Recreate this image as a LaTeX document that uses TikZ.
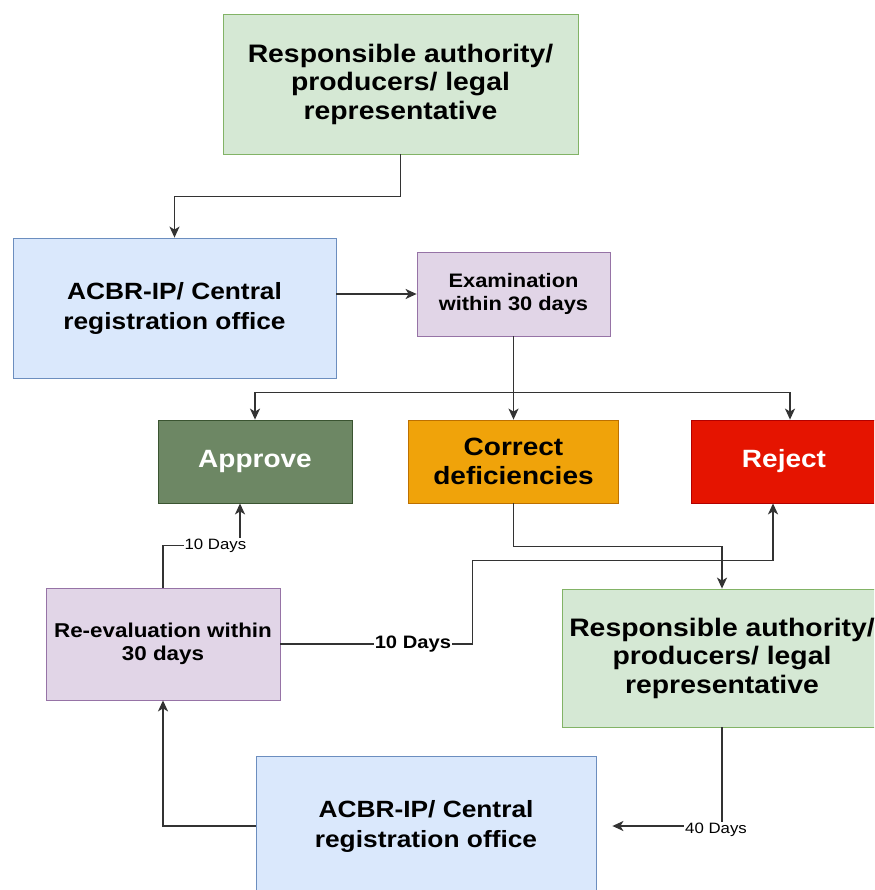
\documentclass[tikz,border=0pt]{standalone}
\usepackage{fontspec}
\setmainfont{Liberation Sans}[FakeStretch=1.12]
\usetikzlibrary{arrows.meta,calc}
\definecolor{gfill}{HTML}{D5E8D4}
\definecolor{gdraw}{HTML}{82B366}
\definecolor{bfill}{HTML}{DAE8FC}
\definecolor{bdraw}{HTML}{6C8EBF}
\definecolor{pfill}{HTML}{E1D5E7}
\definecolor{pdraw}{HTML}{9673A6}
\definecolor{appfill}{HTML}{6D8764}
\definecolor{appdraw}{HTML}{3A5431}
\definecolor{orfill}{HTML}{F0A30A}
\definecolor{ordraw}{HTML}{BD7000}
\definecolor{redfill}{HTML}{E51400}
\definecolor{reddraw}{HTML}{B20000}
\definecolor{linec}{HTML}{333333}
\begin{document}
\begin{tikzpicture}[x=1pt,y=-1pt,
  box/.style={draw, line width=0.8pt, align=center, inner sep=0pt},
  greenbox/.style={box, fill=gfill, draw=gdraw, minimum width=355pt, minimum height=140pt,
    font=\fontsize{25.3}{28.5}\selectfont\bfseries},
  bluebox/.style={box, fill=bfill, draw=bdraw, minimum width=323pt, minimum height=140pt,
    font=\fontsize{23.5}{30}\selectfont\bfseries},
  purplebox/.style={box, fill=pfill, draw=pdraw,
    font=\fontsize{19.5}{23}\selectfont\bfseries},
  decbox/.style={box, minimum height=83pt, font=\fontsize{25}{29}\selectfont\bfseries},
  arr/.style={draw=linec, line width=1.6pt, -{Stealth[length=11pt,width=10pt,inset=3pt]}},
  lab/.style={fill=white, inner sep=1pt, text=black, font=\fontsize{15}{15}\selectfont},
  labb/.style={fill=white, inner sep=1pt, text=black, font=\fontsize{18}{18}\selectfont\bfseries}]
\path[use as bounding box] (0,0) rectangle (874,890);
\clip (0,0) rectangle (874,890);

% nodes
\node[greenbox] (top) at (400.5,84) {Responsible authority/\\producers/ legal\\representative};
\node[bluebox] (acbr1) at (174.5,308) {ACBR-IP/ Central\\registration office};
\node[purplebox, minimum width=193pt, minimum height=84pt] (exam) at (513.5,294) {Examination\\within 30 days};
\node[decbox, fill=appfill, draw=appdraw, text=white, minimum width=194pt] (approve) at (255,461.5) {Approve};
\node[decbox, fill=orfill, draw=ordraw, text=black, minimum width=210pt] (correct) at (513.5,461.5) {Correct\\deficiencies};
\node[decbox, fill=redfill, draw=reddraw, text=white, minimum width=186pt] (reject) at (784,461.5) {Reject};
\node[greenbox, minimum width=320pt, minimum height=138pt] (resp2) at (722,658) {Responsible authority/\\producers/ legal\\representative};
\node[purplebox, minimum width=234pt, minimum height=112pt, font=\fontsize{20}{23}\selectfont\bfseries] (reeval) at (163,644) {Re-evaluation within\\30 days};
\node[bluebox, minimum width=340pt] (acbr2) at (426,826) {ACBR-IP/ Central\\registration office};

% helper coordinates
\coordinate (rejtop) at ($(reject.north)+(6,0)$);
\coordinate (rejbot) at ($(reject.south)+(-11,0)$);
\coordinate (appbot) at ($(approve.south)+(-15,0)$);
\coordinate (acbr2in) at ($(acbr2.east)+(16,0)$);

% connectors
\draw[arr] (top.south) -- ++(0,42) -| (acbr1.north);
\draw[arr] (acbr1.east |- exam.west) -- (exam.west);
\draw[arr] (exam.south) -- (correct.north);
\coordinate (split) at ($(exam.south)+(0,56)$);
\draw[arr] (split) -| (approve.north);
\draw[arr] (split) -| (rejtop);
\draw[arr] (correct.south) -- ++(0,43) -| (resp2.north);
\draw[arr] (reeval.east) -- node[labb, pos=0.69] {10 Days} ++(192,0) |- ($(rejbot)+(0,57)$) -- (rejbot);
\draw[arr] (reeval.north) -- ++(0,-42) -| node[lab, pos=0.34] {10 Days} (appbot);
\draw[arr] (resp2.south) |- node[lab, pos=0.5, xshift=-6pt, yshift=-4pt] {40 Days} (acbr2in);
\draw[arr] (acbr2.west) -| (reeval.south);
\end{tikzpicture}
\end{document}
